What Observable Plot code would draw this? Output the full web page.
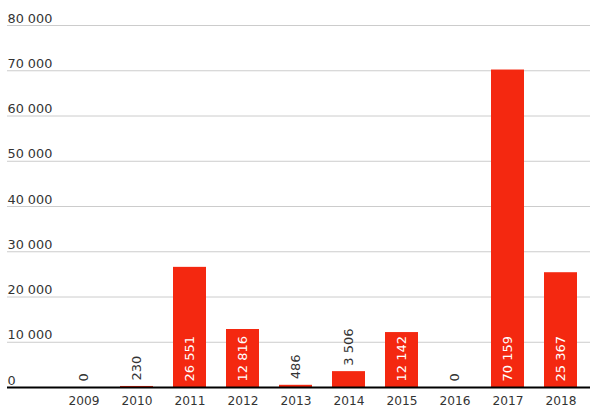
<!DOCTYPE html>
<html>
<head>
<meta charset="utf-8">
<script src="https://cdn.jsdelivr.net/npm/d3@7"></script>
<script src="https://cdn.jsdelivr.net/npm/@observablehq/plot@0.6"></script>
<style>
  html, body { margin: 0; padding: 0; background: #fff; }
  #chart svg { display: block; }
</style>
</head>
<body>
<div id="chart"></div>
<script>
const years = ["2009", "2010", "2011", "2012", "2013", "2014", "2015", "2016", "2017", "2018"];
const values = [0, 230, 26551, 12816, 486, 3506, 12142, 0, 70159, 25367];
const yTicks = [0, 10000, 20000, 30000, 40000, 50000, 60000, 70000, 80000];

const data = years.map((year, i) => ({year, value: values[i]}));
const fmt = d3.formatLocale({thousands: " ", grouping: [3], decimal: ",", currency: ["", ""]}).format(",d");
const inside = d => d.value > 10000;

const chart = Plot.plot({
  width: 598,
  height: 415,
  marginTop: 25,
  marginBottom: 28,
  marginLeft: 7,
  marginRight: 8,
  style: {fontFamily: "DejaVu Sans, Verdana, sans-serif", fontSize: "12px", color: "#333", background: "#fff"},
  x: {domain: years, range: [57, 587], paddingInner: 0.38, paddingOuter: 0.19, label: null, axis: null},
  y: {domain: [0, 80000], label: null, axis: null},
  marks: [
    Plot.ruleY(yTicks.filter(t => t > 0), {stroke: "#cccccc", strokeWidth: 1}),
    Plot.text(yTicks, {y: d => d, text: d => fmt(d), frameAnchor: "left", textAnchor: "start", lineAnchor: "bottom", dy: -3, fill: "#333", fontSize: 12.8}),
    Plot.barY(data, {x: "year", y: "value", fill: "#f42810"}),
    Plot.ruleY([0], {stroke: "#000", strokeWidth: 2.2}),
    Plot.axisX({tickSize: 0, tickPadding: 9, fontSize: 12.2, fill: "#333", label: null}),
    Plot.text(data.filter(inside), {x: "year", y: 0, text: d => fmt(d.value), rotate: -90, textAnchor: "start", lineAnchor: "middle", dy: -6, fill: "#fff", fontSize: 13}),
    Plot.text(data.filter(d => !inside(d)), {x: "year", y: "value", text: d => fmt(d.value), rotate: -90, textAnchor: "start", lineAnchor: "middle", dy: -6, fill: "#333", fontSize: 13})
  ]
});
document.getElementById("chart").appendChild(chart);
</script>
</body>
</html>
